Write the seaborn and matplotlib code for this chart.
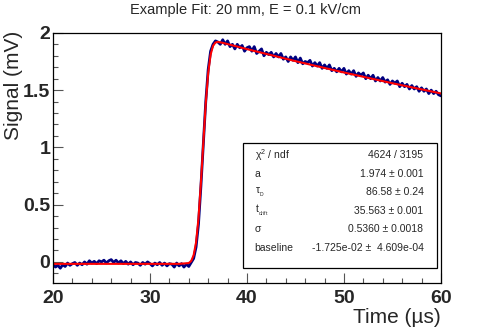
import numpy as np
import pandas as pd
import matplotlib
matplotlib.use("Agg")
import matplotlib.pyplot as plt
import seaborn as sns
from matplotlib.patches import Rectangle
from matplotlib.ticker import MultipleLocator

# measured waveform, sampled every 0.25 us from 20 to 60 us (values in mV)
signal = [
    -0.020, -0.045, -0.030, -0.055, -0.025, -0.040, -0.010, -0.030, -0.015, -0.005,
    -0.030, -0.010, -0.025, 0.000, -0.020, 0.010, -0.010, 0.005, -0.015, 0.010,
    0.000, 0.015, -0.010, 0.010, 0.020, -0.005, 0.015, -0.010, 0.010, -0.015,
    0.005, -0.020, 0.000, -0.025, -0.005, -0.010, -0.030, -0.005, -0.020, 0.000,
    -0.015, -0.035, -0.010, -0.025, -0.005, -0.030, -0.010, -0.035, -0.015, -0.020,
    -0.045, -0.010, -0.035, -0.015, -0.045, -0.020, -0.040, -0.005, 0.030,
    0.13, 0.33, 0.66, 1.03, 1.40, 1.68, 1.84, 1.90, 1.93, 1.92,
    1.90, 1.94, 1.90, 1.93, 1.88, 1.90, 1.86, 1.90, 1.87, 1.89,
    1.84, 1.87, 1.88, 1.84, 1.88, 1.82, 1.84, 1.86, 1.80, 1.83,
    1.81, 1.83, 1.79, 1.82, 1.79, 1.82, 1.77, 1.79, 1.75, 1.79,
    1.76, 1.79, 1.74, 1.78, 1.73, 1.75, 1.74, 1.76, 1.71, 1.74,
    1.71, 1.74, 1.69, 1.72, 1.69, 1.72, 1.67, 1.69, 1.66, 1.69,
    1.66, 1.69, 1.64, 1.67, 1.64, 1.67, 1.62, 1.65, 1.63, 1.65,
    1.60, 1.63, 1.60, 1.63, 1.58, 1.61, 1.58, 1.61, 1.57, 1.59,
    1.55, 1.58, 1.56, 1.58, 1.53, 1.56, 1.53, 1.55, 1.51, 1.54,
    1.51, 1.53, 1.49, 1.52, 1.49, 1.51, 1.47, 1.50, 1.47, 1.49,
    1.46, 1.45,
]
time = np.linspace(20, 60, len(signal))

# fit curve
fit_time = [20, 25, 30, 33, 34.0, 34.25, 34.5, 34.75, 35.0, 35.25, 35.5, 35.75,
            36.0, 36.25, 36.5, 36.75, 37.0, 37.5, 40, 45, 50, 55, 60]
fit_value = [-0.017, -0.017, -0.017, -0.017, -0.010, 0.008, 0.059, 0.17, 0.38, 0.69,
             1.04, 1.386, 1.649, 1.81, 1.887, 1.916, 1.921, 1.913, 1.858, 1.753,
             1.654, 1.560, 1.471]

stat_names = ["χ$^2$ / ndf", "a", "τ$_{_D}$", "t$_{_{drift}}$", "σ", "baseline"]
stat_values = ["4624 / 3195", "1.974 ± 0.001", "86.58 ± 0.24", "35.563 ± 0.001",
               "0.5360 ± 0.0018", "-1.725e-02 ±  4.609e-04"]

data = pd.DataFrame({"t": time, "v": signal})
fit = pd.DataFrame({"t": fit_time, "v": fit_value})

sns.set_style("ticks")
plt.rcParams["font.family"] = ["Liberation Sans", "DejaVu Sans"]
plt.rcParams["mathtext.fontset"] = "custom"
plt.rcParams["mathtext.rm"] = "Liberation Sans"
plt.rcParams["mathtext.it"] = "Liberation Sans"

fig = plt.figure(figsize=(4.91, 3.32), dpi=100)
ax = fig.add_axes([0.108, 0.148, 0.790, 0.753])

sns.lineplot(data=data, x="t", y="v", ax=ax, color="#000080", lw=2.0)
sns.lineplot(data=fit, x="t", y="v", ax=ax, color="#ff0000", lw=1.5)

ax.set_xlim(20, 60)
ax.set_ylim(-0.183, 2.0)
ax.xaxis.set_major_locator(MultipleLocator(10))
ax.xaxis.set_minor_locator(MultipleLocator(2))
ax.yaxis.set_major_locator(MultipleLocator(0.5))
ax.yaxis.set_minor_locator(MultipleLocator(0.1))
ax.set_yticks([0, 0.5, 1, 1.5, 2], ["0", "0.5", "1", "1.5", "2"])
ax.tick_params(which="both", direction="in", top=False, right=False, width=0.8, color="#555555")
ax.tick_params(which="major", length=7)
ax.tick_params(which="minor", length=3.5)
ax.tick_params(axis="x", which="major", pad=5)
ax.tick_params(axis="y", which="major", pad=2)
for lab in ax.get_xticklabels() + ax.get_yticklabels():
    lab.set_fontsize(14)
    lab.set_fontweight("bold")
for sp in ax.spines.values():
    sp.set_linewidth(0.9)
    sp.set_color("black")

ax.set_xlabel("Time (µs)", fontsize=15, ha="right")
ax.xaxis.set_label_coords(1.0, -0.10)
ax.set_ylabel("Signal (mV)", fontsize=15, ha="right")
ax.yaxis.set_label_coords(-0.077, 1.01)

fig.text(0.5, 0.97, "Example Fit: 20 mm, E = 0.1 kV/cm", ha="center", va="center", fontsize=10.5)

# fit statistics box
box = Rectangle((0.49, 0.06), 0.50, 0.50, transform=ax.transAxes, facecolor="white",
                edgecolor="black", lw=0.9, zorder=5)
ax.add_patch(box)
row_y = np.linspace(0.51, 0.14, len(stat_names))
for name, val, yy in zip(stat_names, stat_values, row_y):
    ax.text(0.52, yy, name, transform=ax.transAxes, fontsize=7.5, va="center", ha="left", zorder=6)
    ax.text(0.955, yy, val, transform=ax.transAxes, fontsize=7.5, va="center", ha="right", zorder=6)

fig.savefig("out.png", dpi=100)
